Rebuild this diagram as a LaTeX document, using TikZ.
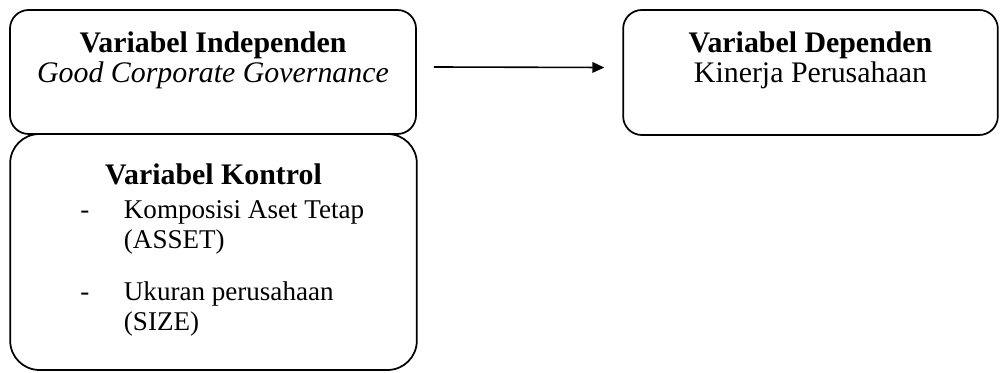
\documentclass[tikz,border=0pt]{standalone}
\usepackage{fontspec}
\setmainfont{Liberation Serif}
\usetikzlibrary{positioning,arrows.meta}

\tikzset{
    varbox/.style={draw, line width=1.3pt, rounded corners=14pt, inner sep=0pt},
    vartext/.style={align=center, inner sep=0pt, font=\fontsize{22.4}{22.5}\selectfont},
    itemtext/.style={inner sep=0pt, font=\fontsize{20.3}{22.5}\selectfont},
}

\begin{document}
\begin{tikzpicture}[x=0.75pt,y=0.75pt,yscale=-1,xscale=1]
        \useasboundingbox (0,0) rectangle (1000,373);
        % frames
        \node [varbox, minimum width=304.5pt, minimum height=93pt] (indep) at (213,72) {};
        \node [varbox, minimum width=281pt, minimum height=93.75pt] (dep) at (810.5,72.5) {};
        \node [varbox, rounded corners=22pt, minimum width=305pt, minimum height=177pt] (kontrol) at (213.5,252) {};
        
        % texts
        \node [vartext, below=16.5pt of indep.north] (indeptext) {\textbf{Variabel Independen}\\\textit{Good Corporate Governance}};
        \node [vartext, below=16.5pt of dep.north] (deptext) {\textbf{Variabel Dependen}\\Kinerja Perusahaan};
        \node [vartext, below=23pt of kontrol.north] (kontroltext) {\textbf{Variabel Kontrol}};
        \node [itemtext, anchor=north west] (kontrollist) at (80,197) {%
            \begin{tabular}{@{}l@{\hspace{26pt}}l@{}}
                - & Komposisi Aset Tetap\\
                  & (ASSET)\\[16.5pt]
                - & Ukuran perusahaan\\
                  & (SIZE)
            \end{tabular}};
        
        \draw [line width=1.2pt, -{Triangle[length=9pt,width=8pt]}] ([xshift=12.75pt,yshift=-3.75pt]indep.east) -- ([xshift=-13.5pt,yshift=-3.75pt]dep.west);
\end{tikzpicture}
\end{document}
